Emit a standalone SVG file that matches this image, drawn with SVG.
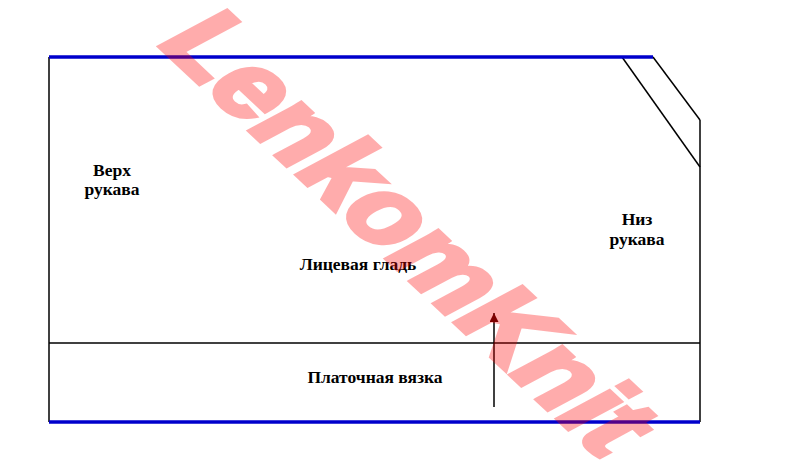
<svg xmlns="http://www.w3.org/2000/svg" width="800" height="471" viewBox="0 0 800 471">
<style>
.edge{stroke:#000;stroke-width:1.5;fill:none}
.blue{stroke:#0000cc;stroke-width:3.5;fill:none}
.lbl{font-family:"Liberation Serif","Times New Roman",serif;font-weight:bold;font-size:17.5px;fill:#000;text-anchor:middle}
.wm{font-family:"Liberation Sans",Arial,sans-serif;font-weight:bold;font-size:100px;fill:#ff0000;stroke:#ff0000;stroke-width:5;stroke-linejoin:miter;opacity:0.32}
</style>
<defs>
<marker id="ah" viewBox="0 0 10 10" refX="10" refY="5" markerWidth="11" markerHeight="9" orient="auto" markerUnits="userSpaceOnUse">
<path d="M0,0 L10,5 L0,10 z" fill="#400000"/>
</marker>
</defs>
<rect width="800" height="471" fill="#fff"/>
<g id="outline">
<line class="edge" x1="49" y1="57" x2="49" y2="422"/>
<line class="edge" x1="653" y1="57" x2="700" y2="120"/>
<line class="edge" x1="622" y1="57" x2="700" y2="167"/>
<line class="edge" x1="700" y1="120" x2="700" y2="422"/>
<line class="edge" x1="49" y1="343" x2="700" y2="343"/>
<line class="blue" x1="49" y1="57" x2="653" y2="57"/>
<line class="blue" x1="49" y1="422" x2="700" y2="422"/>
</g>
<g id="n-top"><text class="lbl" x="112" y="176">Верх</text><text class="lbl" x="112" y="195">рукава</text></g>
<g id="n-main"><text class="lbl" x="358" y="270">Лицевая гладь</text></g>
<g id="n-bottom"><text class="lbl" x="637" y="225">Низ</text><text class="lbl" x="637" y="245">рукава</text></g>
<g id="n-band"><text class="lbl" x="375" y="383">Платочная вязка</text></g>
<g id="connectors">
<line x1="494" y1="407" x2="494" y2="313" stroke="#000" stroke-width="1.5" marker-end="url(#ah)"/>
</g>
<text class="wm" transform="matrix(0.77 0.72 -0.97 0.52 155 42)" x="0" y="0">LenkomKnit</text>
</svg>
